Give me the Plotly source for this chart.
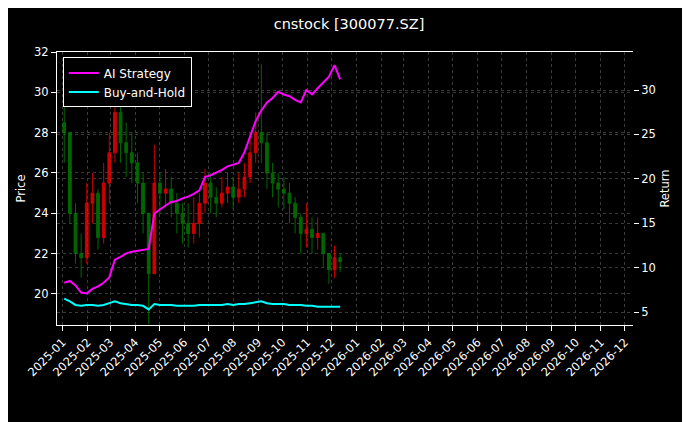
import pandas as pd
import plotly.graph_objects as go

# weekly bars, 2025
dates = pd.date_range("2025-01-03", periods=50, freq="7D")
close = [28.0, 24.0, 22.0, 21.8, 24.5, 25.0, 22.8, 25.5, 27.0, 29.0, 27.5, 27.0, 26.5, 25.5, 24.0,
         21.0, 25.5, 25.0, 25.2, 24.5, 24.0, 23.5, 23.0, 23.5, 24.5, 25.5, 24.8, 24.5, 25.0, 25.3,
         24.8, 25.2, 25.8, 27.0, 28.0, 27.5, 26.0, 25.5, 25.2, 25.0, 24.5, 23.8, 23.0, 23.2, 22.8,
         23.0, 22.0, 21.2, 21.8, 21.6]
high = [30.8, 27.5, 24.5, 23.0, 25.5, 26.0, 25.2, 26.5, 28.0, 30.5, 30.9, 28.5, 28.0, 27.0, 26.0,
        23.5, 27.4, 26.0, 26.2, 25.8, 25.0, 24.5, 24.5, 24.8, 25.0, 26.2, 26.0, 25.3, 25.8, 26.0,
        25.8, 26.0, 26.5, 28.0, 29.0, 31.4, 28.0, 26.5, 26.0, 25.8, 25.5, 24.8, 24.0, 24.5, 23.8,
        23.8, 23.0, 22.0, 22.4, 22.0]
low = [26.5, 23.5, 21.5, 20.8, 21.5, 23.5, 22.2, 22.5, 24.5, 26.5, 26.5, 25.8, 25.5, 24.5, 23.0,
       18.5, 21.0, 24.0, 24.3, 23.8, 23.0, 22.5, 22.3, 22.5, 22.8, 24.0, 24.0, 23.8, 24.3, 24.5,
       24.2, 24.5, 24.8, 25.5, 26.5, 26.5, 25.2, 24.8, 24.3, 24.2, 23.5, 23.0, 22.0, 22.3, 22.0,
       22.2, 21.3, 20.5, 20.8, 21.1]
open_ = [28.5] + close[:-1]

ai_strategy = [8.3, 8.5, 8.0, 7.2, 7.1, 7.6, 7.9, 8.3, 8.9, 10.9, 11.2, 11.6, 11.8, 11.9, 12.0,
               12.1, 16.1, 16.6, 17.0, 17.4, 17.5, 17.8, 18.0, 18.3, 18.7, 20.2, 20.4, 20.7, 21.0,
               21.4, 21.6, 21.8, 23.0, 24.7, 26.5, 27.7, 28.6, 29.1, 29.8, 29.5, 29.3, 28.9, 28.6,
               30.0, 29.5, 30.2, 30.8, 31.5, 32.8, 31.2]
buy_hold = [6.5, 6.2, 5.8, 5.7, 5.8, 5.8, 5.7, 5.8, 6.0, 6.2, 6.0, 5.9, 5.8, 5.8, 5.7, 5.3, 5.9,
            5.8, 5.8, 5.8, 5.7, 5.7, 5.7, 5.7, 5.8, 5.8, 5.8, 5.8, 5.8, 5.9, 5.8, 5.9, 5.9, 6.0,
            6.1, 6.2, 6.0, 5.9, 5.9, 5.9, 5.8, 5.8, 5.8, 5.7, 5.7, 5.6, 5.6, 5.6, 5.6, 5.6]

fig = go.Figure()
fig.add_trace(go.Candlestick(
    x=dates, open=open_, high=high, low=low, close=close,
    increasing=dict(line=dict(color="red", width=1), fillcolor="red"),
    decreasing=dict(line=dict(color="green", width=1), fillcolor="green"),
    whiskerwidth=0, showlegend=False, opacity=0.8,
))
fig.add_trace(go.Scatter(x=dates, y=ai_strategy, name="AI Strategy", yaxis="y2",
                         mode="lines", line=dict(color="magenta", width=2)))
fig.add_trace(go.Scatter(x=dates, y=buy_hold, name="Buy-and-Hold", yaxis="y2",
                         mode="lines", line=dict(color="cyan", width=2)))

grid = dict(showgrid=True, gridcolor="#3a3a3a", griddash="dot", gridwidth=0.6)
# page body has an 8px margin, so the figure is sized 8px smaller
fig.update_layout(
    width=682, height=414,
    paper_bgcolor="black", plot_bgcolor="black",
    font=dict(family="DejaVu Sans", color="white", size=11.5),
    title=dict(text="cnstock [300077.SZ]", x=0.5, xanchor="center", y=0.975, font=dict(size=14.5)),
    margin=dict(l=49, r=57, t=44, b=97),
    xaxis=dict(type="date", range=["2024-12-25", "2026-12-11"], dtick="M1", tick0="2025-01-01",
               tickformat="%Y-%m", tickangle=-45, ticks="outside", tickcolor="white",
               rangeslider=dict(visible=False), showline=True, linecolor="white", mirror=True,
               **grid),
    yaxis=dict(title=dict(text="Price", standoff=6, font=dict(size=11.5)), range=[18.46, 32],
               dtick=2, ticks="outside", tickcolor="white", showline=True, linecolor="white",
               zeroline=False, **grid),
    yaxis2=dict(title=dict(text="Return", standoff=6, font=dict(size=11.5)), overlaying="y",
                side="right", range=[3.54, 34.28], dtick=5, ticks="outside", tickcolor="white",
                zeroline=False, **grid),
    legend=dict(x=0.01, y=0.98, xanchor="left", yanchor="top", bgcolor="black",
                bordercolor="white", borderwidth=1, font=dict(size=12)),
)
fig.write_html("out.html")
